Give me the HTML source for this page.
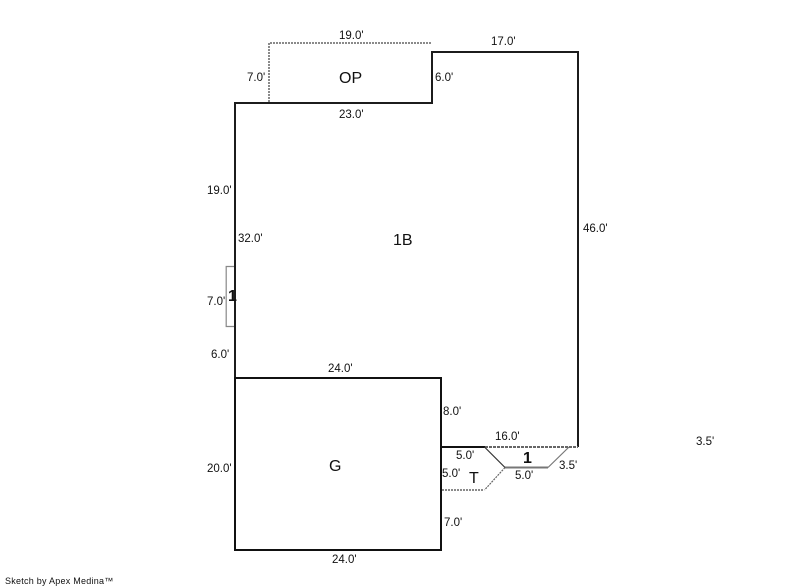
<!DOCTYPE html>
<html>
<head>
<meta charset="utf-8">
<style>
html,body{margin:0;padding:0;background:#fff;}
svg{display:block;}
text{font-family:"Liberation Sans",Arial,sans-serif;fill:#111;}
.s{font-size:11.5px;}
.l{font-size:16px;}
</style>
</head>
<body>
<svg width="800" height="587" viewBox="0 0 800 587" xmlns="http://www.w3.org/2000/svg">
<g fill="none">
<!-- OP -->
<path d="M269 102V43H432" stroke="#8a8a8a" stroke-width="2" stroke-dasharray="2 1"/>
<!-- 1 small box -->
<path d="M234 266.5H226.2V326.5H234" stroke="#888" stroke-width="1.2"/>
<!-- 1B main -->
<path d="M235 378V103H432V52H578V447" stroke="#1c1c1c" stroke-width="2"/>
<!-- G -->
<path d="M235 378H441V550H235Z" stroke="#111" stroke-width="2"/>
<path d="M441 447H485" stroke="#111" stroke-width="2"/>
<path d="M485 447H578" stroke="#666" stroke-width="2" stroke-dasharray="3 1"/>
<path d="M442 490H484" stroke="#8a8a8a" stroke-width="2" stroke-dasharray="2 1"/>
<path d="M505 467.5H548" stroke="#777" stroke-width="2"/>
<path d="M484.5 447L505 467.5" stroke="#333" stroke-width="1.2"/>
<path d="M505 467.5L484.5 490" stroke="#666" stroke-width="1.2" stroke-dasharray="2 1"/>
<path d="M548 467.5L569 447" stroke="#777" stroke-width="1.2"/>
</g>
<text class="s" x="339" y="39">19.0'</text>
<text class="s" x="491" y="45">17.0'</text>
<text class="s" x="247" y="81">7.0'</text>
<text class="s" x="435" y="81">6.0'</text>
<text class="s" x="339" y="118">23.0'</text>
<text class="s" x="207" y="194">19.0'</text>
<text class="s" x="238" y="242">32.0'</text>
<text class="s" x="583" y="232">46.0'</text>
<text class="s" x="207" y="305">7.0'</text>
<text class="s" x="211" y="358">6.0'</text>
<text class="s" x="328" y="372">24.0'</text>
<text class="s" x="443" y="415">8.0'</text>
<text class="s" x="495" y="440">16.0'</text>
<text class="s" x="696" y="445">3.5'</text>
<text class="s" x="456" y="459">5.0'</text>
<text class="s" x="559" y="469">3.5'</text>
<text class="s" x="207" y="472">20.0'</text>
<text class="s" x="442" y="477">5.0'</text>
<text class="s" x="515" y="479">5.0'</text>
<text class="s" x="444" y="526">7.0'</text>
<text class="s" x="332" y="563">24.0'</text>
<text class="l" x="339" y="83">OP</text>
<text class="l" x="393" y="245">1B</text>
<text class="l" x="228" y="301" font-weight="bold">1</text>
<text class="l" x="329" y="471">G</text>
<text class="l" x="523" y="463" font-weight="bold">1</text>
<text class="l" x="469" y="483">T</text>
<text x="5" y="584" style="font-size:9px;letter-spacing:.25px">Sketch by Apex Medina™</text>
</svg>
</body>
</html>
